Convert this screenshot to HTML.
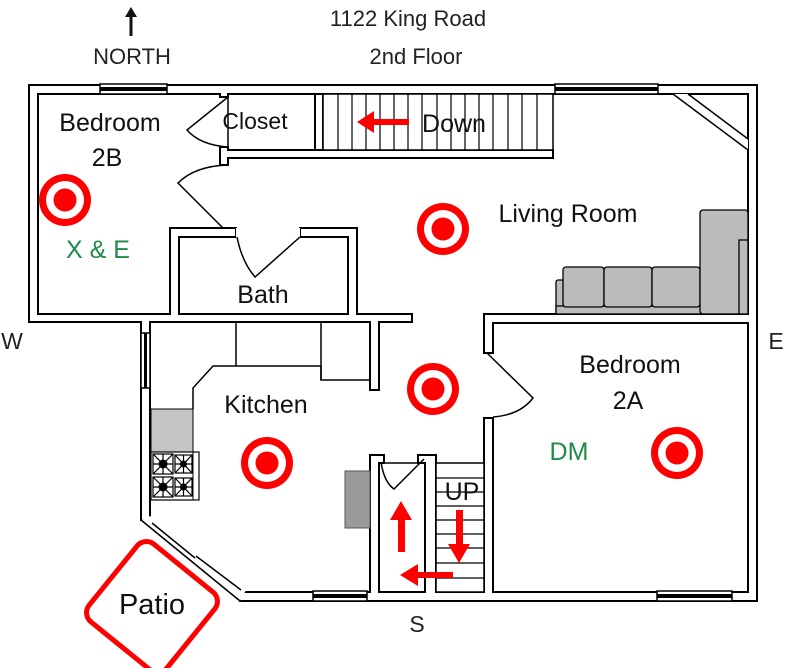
<!DOCTYPE html>
<html><head><meta charset="utf-8"><style>
html,body{margin:0;padding:0;background:#fff;}
svg{display:block;}
text{font-family:"Liberation Sans",sans-serif;}
</style></head><body>
<svg width="794" height="668" viewBox="0 0 794 668" xmlns="http://www.w3.org/2000/svg">
<rect width="794" height="668" fill="#fff"/>
<!-- headings -->
<text x="408" y="26" font-size="22" text-anchor="middle" fill="#222">1122 King Road</text>
<text x="416" y="64" font-size="22" text-anchor="middle" fill="#222">2nd Floor</text>
<text x="132" y="64" font-size="22" text-anchor="middle" fill="#222">NORTH</text>
<line x1="131" y1="36" x2="131" y2="14" stroke="#111" stroke-width="3"/>
<polygon points="125,17 131,7 137,17" fill="#111"/>
<text x="12" y="349" font-size="23" text-anchor="middle" fill="#222">W</text>
<text x="776" y="349" font-size="23" text-anchor="middle" fill="#222">E</text>
<text x="417" y="632" font-size="23" text-anchor="middle" fill="#222">S</text>

<!-- wall outlines pass -->
<g fill="#000" stroke="#000" stroke-width="2">
<rect x="29" y="85" width="728" height="9"/>
<rect x="29" y="85" width="9" height="237"/>
<rect x="748" y="85" width="9" height="516"/>
<rect x="29" y="314" width="383" height="8"/>
<rect x="141" y="314" width="9" height="206"/>
<rect x="240" y="592" width="517" height="9"/>
<rect x="220" y="88" width="8" height="9"/>
<rect x="220" y="147" width="8" height="18"/>
<rect x="220" y="150" width="333" height="8"/>
<rect x="315" y="94" width="8" height="56"/>
<rect x="170" y="228" width="9" height="94"/>
<rect x="170" y="228" width="66" height="9"/>
<rect x="300" y="228" width="57" height="9"/>
<rect x="348" y="228" width="9" height="94"/>
<rect x="370" y="318" width="9" height="72"/>
<rect x="370" y="455" width="9" height="140"/>
<rect x="370" y="455" width="14" height="8"/>
<rect x="418" y="455" width="18" height="8"/>
<rect x="425" y="455" width="11" height="140"/>
<rect x="484" y="314" width="273" height="9"/>
<rect x="484" y="314" width="9" height="39"/>
<rect x="484" y="418" width="9" height="177"/>
</g>
<g fill="#fff" stroke="none">
<rect x="30" y="86" width="726" height="7"/>
<rect x="30" y="86" width="7" height="235"/>
<rect x="749" y="86" width="7" height="514"/>
<rect x="30" y="315" width="381" height="6"/>
<rect x="142" y="315" width="7" height="204"/>
<rect x="241" y="593" width="515" height="7"/>
<rect x="221" y="89" width="6" height="7"/>
<rect x="221" y="148" width="6" height="16"/>
<rect x="221" y="151" width="331" height="6"/>
<rect x="316" y="95" width="6" height="54"/>
<rect x="171" y="229" width="7" height="92"/>
<rect x="171" y="229" width="64" height="7"/>
<rect x="301" y="229" width="55" height="7"/>
<rect x="349" y="229" width="7" height="92"/>
<rect x="371" y="319" width="7" height="70"/>
<rect x="371" y="456" width="7" height="138"/>
<rect x="371" y="456" width="12" height="6"/>
<rect x="419" y="456" width="16" height="6"/>
<rect x="426" y="456" width="9" height="138"/>
<rect x="485" y="315" width="271" height="7"/>
<rect x="485" y="315" width="7" height="37"/>
<rect x="485" y="419" width="7" height="175"/>
</g>

<!-- SW diagonal wall -->
<polygon points="141,520 150,516 246,590 240,601" fill="#fff"/>
<line x1="141" y1="520" x2="240" y2="601" stroke="#000" stroke-width="1.5"/>
<line x1="152" y1="523" x2="195" y2="558" stroke="#000" stroke-width="1.5"/>
<line x1="196" y1="556" x2="241" y2="590" stroke="#000" stroke-width="1.5"/>

<!-- NE diagonal -->
<polygon points="673,94 688,94 748,139 748,150" fill="#fff"/>
<line x1="673" y1="94" x2="748" y2="150" stroke="#000" stroke-width="1.5"/>
<polyline points="688,94 748,94 748,139 688,94" fill="none" stroke="#000" stroke-width="1.5"/>

<!-- windows -->
<g fill="#fff" stroke="#000" stroke-width="1.5">
<rect x="100" y="84" width="67" height="10"/>
<rect x="555" y="84" width="103" height="10"/>
<rect x="141" y="333" width="9" height="55"/>
<rect x="313" y="591" width="54" height="10"/>
<rect x="657" y="591" width="75" height="10"/>
</g>
<g fill="#000">
<rect x="100" y="87" width="67" height="4"/>
<rect x="555" y="87" width="103" height="4"/>
<rect x="144" y="333" width="3" height="55"/>
<rect x="313" y="594" width="54" height="4"/>
<rect x="657" y="594" width="75" height="4"/>
</g>

<!-- closet box -->
<rect x="228" y="94" width="87" height="56" fill="none" stroke="#000" stroke-width="1.5"/>
<!-- top stairs -->
<rect x="323" y="94" width="230" height="56" fill="#fff" stroke="#000" stroke-width="1.5"/>
<g stroke="#000" stroke-width="1.2">
<line x1="338" y1="94" x2="338" y2="150"/><line x1="352" y1="94" x2="352" y2="150"/><line x1="366" y1="94" x2="366" y2="150"/><line x1="380" y1="94" x2="380" y2="150"/><line x1="394" y1="94" x2="394" y2="150"/><line x1="408" y1="94" x2="408" y2="150"/><line x1="422" y1="94" x2="422" y2="150"/><line x1="437" y1="94" x2="437" y2="150"/><line x1="451" y1="94" x2="451" y2="150"/><line x1="465" y1="94" x2="465" y2="150"/><line x1="479" y1="94" x2="479" y2="150"/><line x1="493" y1="94" x2="493" y2="150"/><line x1="508" y1="94" x2="508" y2="150"/><line x1="522" y1="94" x2="522" y2="150"/><line x1="537" y1="94" x2="537" y2="150"/>
</g>

<!-- bath inner -->
<rect x="179" y="237" width="169" height="77" fill="none" stroke="#000" stroke-width="1.5"/>
<rect x="236" y="228" width="64" height="10" fill="#fff"/>

<!-- kitchen counters -->
<g fill="none" stroke="#000" stroke-width="1.5">
<polyline points="236,322 236,366"/>
<polyline points="321,380 321,366 213,366 193,388 193,409"/>
<polyline points="321,322 321,380 370,380"/>
<rect x="379" y="463" width="46" height="129"/>
</g>
<rect x="151" y="409" width="42" height="43" fill="#c4c4c4" stroke="#000" stroke-width="1"/>
<rect x="151" y="452" width="48" height="48" fill="#fff" stroke="#000" stroke-width="1.2"/>
<line x1="193" y1="452" x2="193" y2="500" stroke="#000" stroke-width="1"/>
<g stroke="#000" stroke-width="1.2" fill="none">
<rect x="153" y="454" width="20" height="20"/><rect x="175" y="455" width="17" height="18"/>
<rect x="153" y="477" width="20" height="20"/><rect x="175" y="478" width="17" height="18"/>
<path d="M153,454L173,474M173,454L153,474M163,454V474M153,464H173"/>
<path d="M175,455L192,473M192,455L175,473M183.5,455V473M175,464H192"/>
<path d="M153,477L173,497M173,477L153,497M163,477V497M153,487H173"/>
<path d="M175,478L192,496M192,478L175,496M183.5,478V496M175,487H192"/>
</g>
<g fill="#000"><circle cx="163" cy="464" r="4.5"/><circle cx="183.5" cy="464" r="3.5"/><circle cx="163" cy="487" r="4.5"/><circle cx="183.5" cy="487" r="3.5"/></g>
<rect x="345" y="471" width="25" height="57" fill="#9a9a9a" stroke="#555" stroke-width="1"/>

<!-- lower stairs -->
<rect x="436" y="463" width="48" height="129" fill="#fff" stroke="#000" stroke-width="1.5"/>
<g stroke="#000" stroke-width="1.2">
<line x1="436" y1="478" x2="484" y2="478"/><line x1="436" y1="492" x2="484" y2="492"/><line x1="436" y1="506" x2="484" y2="506"/><line x1="436" y1="520" x2="484" y2="520"/><line x1="436" y1="534" x2="484" y2="534"/><line x1="436" y1="548" x2="484" y2="548"/><line x1="436" y1="563" x2="484" y2="563"/><line x1="436" y1="578" x2="484" y2="578"/>
</g>

<!-- sofa -->
<g fill="#bbb" stroke="#000" stroke-width="1.3">
<rect x="556" y="280" width="10" height="34" rx="2"/>
<rect x="556" y="306" width="192" height="8"/>
<rect x="563" y="267" width="41" height="40" rx="3"/>
<rect x="604" y="267" width="48" height="40" rx="3"/>
<rect x="652" y="267" width="48" height="40" rx="3"/>
<rect x="700" y="210" width="48" height="104" rx="3"/>
<rect x="739" y="240" width="9" height="74"/>
</g>

<!-- doors -->
<g fill="none" stroke="#000" stroke-width="1.5">
<path d="M228,97 L187,130 Q200,145 228,147"/>
<path d="M228,165 Q195,166 178,183 L223,228"/>
<path d="M237,237 Q242,262 255,277 L300,237"/>
<path d="M487,353 L533,398 Q520,415 493,417"/>
<path d="M381,462 Q384,482 394,489 L424,459"/>
</g>

<!-- targets -->
<g>
<g transform="translate(65,200)"><circle r="26" fill="#f00"/><circle r="19" fill="#fff"/><circle r="11.5" fill="#f00"/></g>
<g transform="translate(443,229)"><circle r="26" fill="#f00"/><circle r="19" fill="#fff"/><circle r="11.5" fill="#f00"/></g>
<g transform="translate(433,389)"><circle r="26" fill="#f00"/><circle r="19" fill="#fff"/><circle r="11.5" fill="#f00"/></g>
<g transform="translate(267,463)"><circle r="26" fill="#f00"/><circle r="19" fill="#fff"/><circle r="11.5" fill="#f00"/></g>
<g transform="translate(677,453)"><circle r="26" fill="#f00"/><circle r="19" fill="#fff"/><circle r="11.5" fill="#f00"/></g>
</g>

<!-- red arrows -->
<g fill="#f00" stroke="none">
<rect x="372" y="119" width="37" height="6"/><polygon points="357,122 374,111 374,133"/>
<rect x="398" y="518" width="7" height="34"/><polygon points="401,501 390,520 412,520"/>
<rect x="456" y="510" width="7" height="36"/><polygon points="459,563 448,544 470,544"/>
<rect x="415" y="572" width="38" height="6"/><polygon points="400,575 418,564 418,586"/>
</g>

<!-- patio -->
<rect x="102" y="557" width="100" height="100" rx="12" fill="#fff" stroke="#f00" stroke-width="5" transform="rotate(39 152 607)"/>

<!-- labels -->
<g font-size="25" fill="#111">
<text x="110" y="131" text-anchor="middle">Bedroom</text>
<text x="107" y="166" text-anchor="middle">2B</text>
<text x="255" y="129" text-anchor="middle" font-size="23">Closet</text>
<text x="454" y="132" text-anchor="middle">Down</text>
<text x="568" y="222" text-anchor="middle">Living Room</text>
<text x="263" y="303" text-anchor="middle">Bath</text>
<text x="266" y="413" text-anchor="middle">Kitchen</text>
<text x="630" y="373" text-anchor="middle">Bedroom</text>
<text x="628" y="409" text-anchor="middle">2A</text>
<text x="462" y="500" text-anchor="middle">UP</text>
<text x="152" y="614" text-anchor="middle" font-size="29">Patio</text>
</g>
<g font-size="25" fill="#1e8a4a">
<text x="98" y="258" text-anchor="middle">X &amp; E</text>
<text x="569" y="460" text-anchor="middle">DM</text>
</g>
</svg>
</body></html>
